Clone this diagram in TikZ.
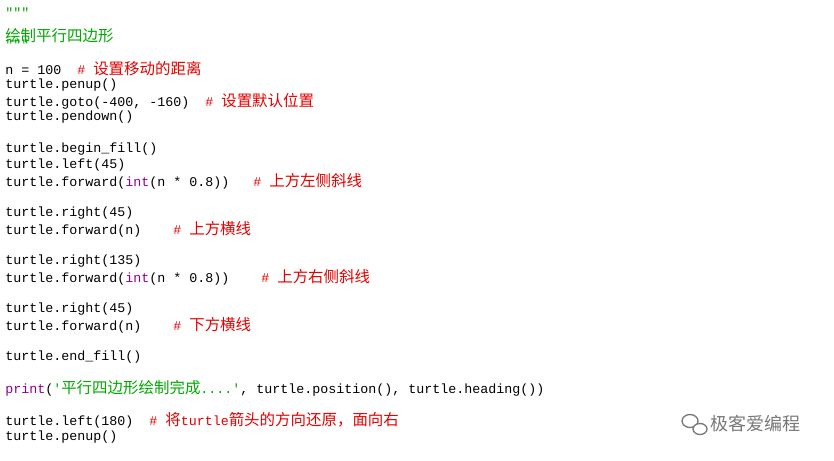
\documentclass[tikz,border=0pt]{standalone}
\usepackage{fontspec}
\setmonofont{Liberation Mono}
\newfontfamily\cjk{Noto Sans CJK SC}
\usetikzlibrary{positioning}
\definecolor{cmtred}{RGB}{230,0,0}
\definecolor{docgreen}{RGB}{0,168,0}
\definecolor{kwpurple}{RGB}{144,0,144}
\definecolor{wmgray}{RGB}{120,120,120}
\newcommand{\cn}[1]{{\cjk\fontsize{11.6pt}{12pt}\selectfont #1}}
\newcommand{\cmt}[1]{\textcolor{cmtred}{\#~\cn{#1}}}
\tikzset{
  code/.style={anchor=west, inner sep=0pt, font=\ttfamily\fontsize{10pt}{12pt}\selectfont},
}
\begin{document}
\begin{tikzpicture}[x=0.75pt,y=-0.75pt]
    \useasboundingbox (0,0) rectangle (834,460);
    \node[code, text=docgreen](q1) at (5,13){"""};
    \node[code, text=docgreen](title) at (5,36){\cn{绘制平行四边形}};
    \node[code, text=docgreen](q2) at (5,45){"""};

    \node[code](l1) at (5,69){n = 100\ \ \cmt{设置移动的距离}};
    \node[code](l2) at (5,85){turtle.penup()};
    \node[code](l3) at (5,101){turtle.goto(-400, -160)\ \ \cmt{设置默认位置}};
    \node[code](l4) at (5,117){turtle.pendown()};

    \node[code](l5) at (5,149){turtle.begin\_fill()};
    \node[code](l6) at (5,165){turtle.left(45)};
    \node[code](l7) at (5,181){turtle.forward(\textcolor{kwpurple}{int}(n * 0.8))\ \ \ \cmt{上方左侧斜线}};

    \node[code](l8) at (5,213){turtle.right(45)};
    \node[code](l9) at (5,229){turtle.forward(n)\ \ \ \ \cmt{上方横线}};

    \node[code](l10) at (5,261){turtle.right(135)};
    \node[code](l11) at (5,277){turtle.forward(\textcolor{kwpurple}{int}(n * 0.8))\ \ \ \ \cmt{上方右侧斜线}};

    \node[code](l12) at (5,309){turtle.right(45)};
    \node[code](l13) at (5,325){turtle.forward(n)\ \ \ \ \cmt{下方横线}};

    \node[code](l14) at (5,357){turtle.end\_fill()};

    \node[code](l15) at (5,388){\textcolor{kwpurple}{print}(\textcolor{docgreen}{'\cn{平行四边形绘制完成}....'}, turtle.position(), turtle.heading())};

    \node[code](l16) at (5,420){turtle.left(180)\ \ \textcolor{cmtred}{\#~\cn{将}turtle\cn{箭头的方向还原，面向右}}};
    \node[code](l17) at (5,437){turtle.penup()};

    % watermark
    \node[anchor=west, inner sep=0pt, text=wmgray, font=\cjk\fontsize{13.5pt}{14pt}\selectfont](wm) at (710,424){极客爱编程};
    \draw[wmgray, line width=1pt] (690,421) ellipse (8 and 6.5);
    \draw[wmgray, line width=1pt, fill=white] (700,429) ellipse (7 and 5.5);
\end{tikzpicture}
\end{document}
